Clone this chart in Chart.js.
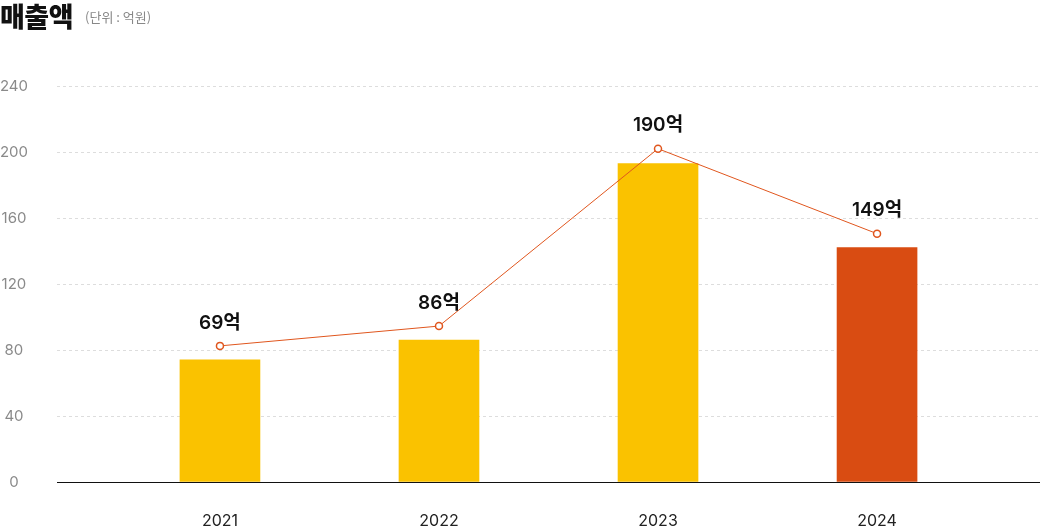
<!DOCTYPE html>
<html>
<head>
<meta charset="utf-8">
<script src="https://cdn.jsdelivr.net/npm/chart.js"></script>
<style>
  html, body { margin: 0; padding: 0; background: #fff; }
  #wrap { position: relative; width: 1040px; height: 531px; }
  #title { position: absolute; left: 0; top: 0; font-size: 27px; font-weight: 800; color: #111; line-height: 32px; font-family: "Noto Sans CJK KR", sans-serif; letter-spacing: -0.5px; }
  #unit { font-size: 13px; font-weight: 400; color: #888; margin-left: 12px; vertical-align: 5px; letter-spacing: 0; }
  canvas { display: block; }
</style>
</head>
<body>
<div id="wrap">
  <canvas id="salesChart" width="1040" height="531"></canvas>
  <div id="title">매출액<span id="unit">(단위 : 억원)</span></div>
</div>
<script>
const years = ['2021', '2022', '2023', '2024'];
const barValues = [74, 86, 193, 142];
const lineValues = [82.5, 94.5, 202, 150.5];
const valueLabels = ['69억', '86억', '190억', '149억'];
const barColors = ['#FAC200', '#FAC200', '#FAC200', '#D94C12'];

const labelPlugin = {
    id: 'valueLabels',
    afterDatasetsDraw(chart) {
        const ctx = chart.ctx;
        const meta = chart.getDatasetMeta(0);
        ctx.save();
        ctx.font = '600 19px Inter, "Noto Sans CJK KR", sans-serif';
        ctx.fillStyle = '#111';
        ctx.textAlign = 'center';
        ctx.textBaseline = 'middle';
        meta.data.forEach((pt, i) => {
            ctx.fillText(valueLabels[i], pt.x, pt.y - 23);
        });
        ctx.restore();
    }
};

document.addEventListener('DOMContentLoaded', function () {
    const ctx = document.getElementById('salesChart').getContext('2d');
    new Chart(ctx, {
        data: {
            datasets: [{
                type: 'line',
                data: lineValues.map((v, i) => ({ x: i, y: v })),
                borderColor: '#E0561E',
                borderWidth: 1,
                pointRadius: 3.5,
                pointBackgroundColor: '#fff',
                pointBorderColor: '#E0561E',
                pointBorderWidth: 1.5,
                order: 0
            }, {
                type: 'bar',
                data: barValues.map((v, i) => ({ x: i, y: v })),
                backgroundColor: barColors,
                barThickness: 80,
                order: 1
            }]
        },
        options: {
            responsive: false,
            animation: false,
            layout: { autoPadding: false, padding: { top: 86, right: 0, bottom: 0, left: 0 } },
            plugins: {
                legend: { display: false },
                tooltip: { enabled: false }
            },
            scales: {
                x: {
                    type: 'linear',
                    offset: false,
                    min: -0.744,
                    max: 3.744,
                    afterBuildTicks: (axis) => { axis.ticks = years.map((y, i) => ({ value: i })); },
                    afterFit: (axis) => { axis.height = 49; },
                    grid: { display: false, drawTicks: false },
                    border: { display: true, color: '#111', width: 1 },
                    ticks: {
                        padding: 30,
                        maxRotation: 0,
                        color: '#222',
                        font: { family: 'Inter, "Noto Sans CJK KR", sans-serif', size: 16 },
                        callback: (v) => years[v]
                    }
                },
                y: {
                    min: 0,
                    max: 240,
                    grid: { color: '#dddddd', drawTicks: false, lineWidth: 1 },
                    border: { display: false, dash: [3, 3] },
                    afterFit: (axis) => { axis.width = 57; },
                    ticks: {
                        stepSize: 40,
                        padding: 29,
                        crossAlign: 'center',
                        color: '#8a8a8a',
                        font: { family: 'Inter, "Noto Sans CJK KR", sans-serif', size: 15 }
                    }
                }
            }
        },
        plugins: [labelPlugin]
    });
});
</script>
</body>
</html>
